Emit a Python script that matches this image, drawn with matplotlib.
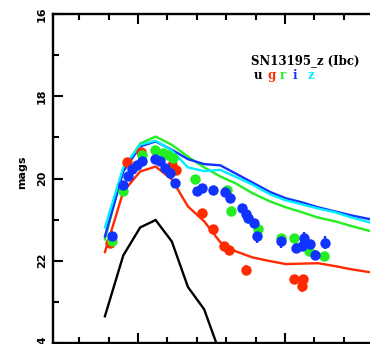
import matplotlib
matplotlib.use("Agg")
import matplotlib.pyplot as plt
import numpy as np

# Model light-curve epochs (days from g-band maximum)
model_days = [-4.5, -2.0, 0.3, 2.4, 4.6, 6.8, 9.0, 11.2, 13.3, 15.6,
              18.0, 20.1, 22.3, 24.5, 26.8, 29.1, 31.6]

# Template magnitudes per filter
model_u = [23.35, 21.87, 21.19, 21.01, 21.53, 22.64, 23.18, 24.27]
model_g = [21.79, 20.32, 19.83, 19.71, 20.02, 20.68, 21.04, 21.55, 21.77,
           21.92, 22.01, 22.08, 22.07, 22.06, 22.13, 22.21, 22.28]
model_r = [21.48, 19.78, 19.15, 18.98, 19.18, 19.47, 19.73, 19.95, 20.12,
           20.36, 20.56, 20.70, 20.82, 20.95, 21.04, 21.16, 21.28]
model_i = [21.41, 19.83, 19.22, 19.10, 19.30, 19.53, 19.65, 19.68, 19.88,
           20.10, 20.33, 20.48, 20.58, 20.70, 20.80, 20.90, 20.99]
model_z = [21.19, 19.73, 19.18, 19.08, 19.32, 19.73, 19.82, 19.79, 19.96,
           20.15, 20.39, 20.53, 20.63, 20.73, 20.82, 20.95, 21.07]

# Photometry: g band
g_days = [-3.81, -1.50, 0.41, 4.63, 5.17, 8.67, 10.24, 11.70, 12.45, 14.76,
          21.22, 22.27, 22.49]
g_mag = [21.56, 19.59, 19.35, 19.66, 19.79, 20.83, 21.24, 21.64, 21.75, 22.22,
         22.45, 22.61, 22.45]
g_err = [0.08, 0.05, 0.05, 0.05, 0.05, 0.05, 0.05, 0.05, 0.05, 0.12,
         0.10, 0.15, 0.10]

# Photometry: r band
r_days = [-3.58, -2.00, 0.50, 2.31, 3.44, 4.12, 4.80, 7.76, 12.07, 12.59,
          14.97, 16.37, 19.46, 21.29, 23.27, 25.31]
r_mag = [21.52, 20.31, 19.42, 19.31, 19.38, 19.42, 19.50, 20.02, 20.29, 20.79,
         20.97, 21.24, 21.45, 21.44, 21.76, 21.88]
r_err = [0.06, 0.05, 0.04, 0.04, 0.04, 0.04, 0.04, 0.05, 0.05, 0.06,
         0.06, 0.08, 0.10, 0.10, 0.10, 0.10]

# Photometry: i band
i_days = [-3.58, -2.00, -1.36, -0.86, -0.18, 0.50, 2.31, 2.99, 3.67, 4.35,
          5.03, 7.99, 8.67, 10.24, 11.84, 12.52, 14.15, 14.63, 15.03, 15.85,
          16.19, 19.46, 21.50, 22.59, 22.38, 23.40, 24.15, 25.44]
i_mag = [21.40, 20.15, 19.93, 19.78, 19.66, 19.58, 19.52, 19.58, 19.74, 19.86,
         20.10, 20.31, 20.23, 20.27, 20.34, 20.47, 20.71, 20.87, 20.95, 21.07,
         21.41, 21.52, 21.68, 21.44, 21.64, 21.60, 21.87, 21.56]
i_err = [0.06, 0.05, 0.04, 0.04, 0.04, 0.04, 0.04, 0.04, 0.04, 0.04,
         0.05, 0.05, 0.05, 0.05, 0.05, 0.05, 0.08, 0.08, 0.08, 0.08,
         0.15, 0.18, 0.12, 0.15, 0.10, 0.10, 0.12, 0.15]

band_labels = ["u", "g", "r", "i", "z"]
band_colors = ["#000000", "#ff2a00", "#22ee22", "#1133ff", "#00eeff"]
title = "SN13195_z (Ibc)"

W, H = 370, 344
fig = plt.figure(figsize=(W / 100, H / 100), dpi=100)
ax = fig.add_axes([52.5 / W, 1.0 / H, (420 - 52.5) / W, (343 - 14) / H])

ax.set_xlim(-11.63, 38.37)
ax.set_ylim(24, 16)

lw = 1.7
for mags, col in zip([model_u, model_g, model_r, model_i, model_z], band_colors):
    ax.plot(model_days[:len(mags)], mags, color=col, lw=lw, solid_joinstyle="miter",
            zorder=2, clip_on=True)

for d, m, e, col in [(g_days, g_mag, g_err, band_colors[1]),
                     (r_days, r_mag, r_err, band_colors[2]),
                     (i_days, i_mag, i_err, band_colors[3])]:
    ax.errorbar(d, m, yerr=e, fmt="o", color=col, ms=7.5, mew=0, elinewidth=1.7,
                capsize=0, zorder=3)

# axes frame and ticks
for side in ["left", "top", "bottom"]:
    ax.spines[side].set_linewidth(1.7)
ax.spines["right"].set_visible(False)
ax.set_xticks(np.arange(0, 40, 20))
ax.set_xticks(np.arange(-8, 40, 4), minor=True)
ax.set_yticks([16, 18, 20, 22, 24])
ax.set_yticks([17, 19, 21, 23], minor=True)
ax.tick_params(which="both", direction="in", top=True, bottom=True, left=True,
               right=False, width=1.5)
ax.tick_params(which="major", length=7)
ax.tick_params(which="minor", length=4)
ax.tick_params(axis="x", labelbottom=False, labeltop=False)
ax.set_yticklabels(["16", "18", "20", "22", "24"])
for t in ax.get_yticklabels():
    t.set_rotation(90)
    t.set_va("center")
    t.set_ha("right")
    t.set_fontsize(8)
    t.set_fontweight("bold")
ax.tick_params(axis="y", pad=4)

fig.text(22 / W, 1 - 172 / H, "mags", rotation=90, ha="center", va="center",
         fontsize=8, fontweight="bold")

fig.text(251 / W, 1 - 64 / H, title, ha="left", va="baseline",
         fontsize=8.5, fontweight="bold", family="DejaVu Serif")
for lab, col, px in zip(band_labels, band_colors, [254, 267, 280, 293, 308]):
    fig.text(px / W, 1 - 79 / H, lab, ha="left", va="baseline", color=col,
             fontsize=8.5, fontweight="bold", family="DejaVu Serif")

fig.savefig("out.png", dpi=100)
